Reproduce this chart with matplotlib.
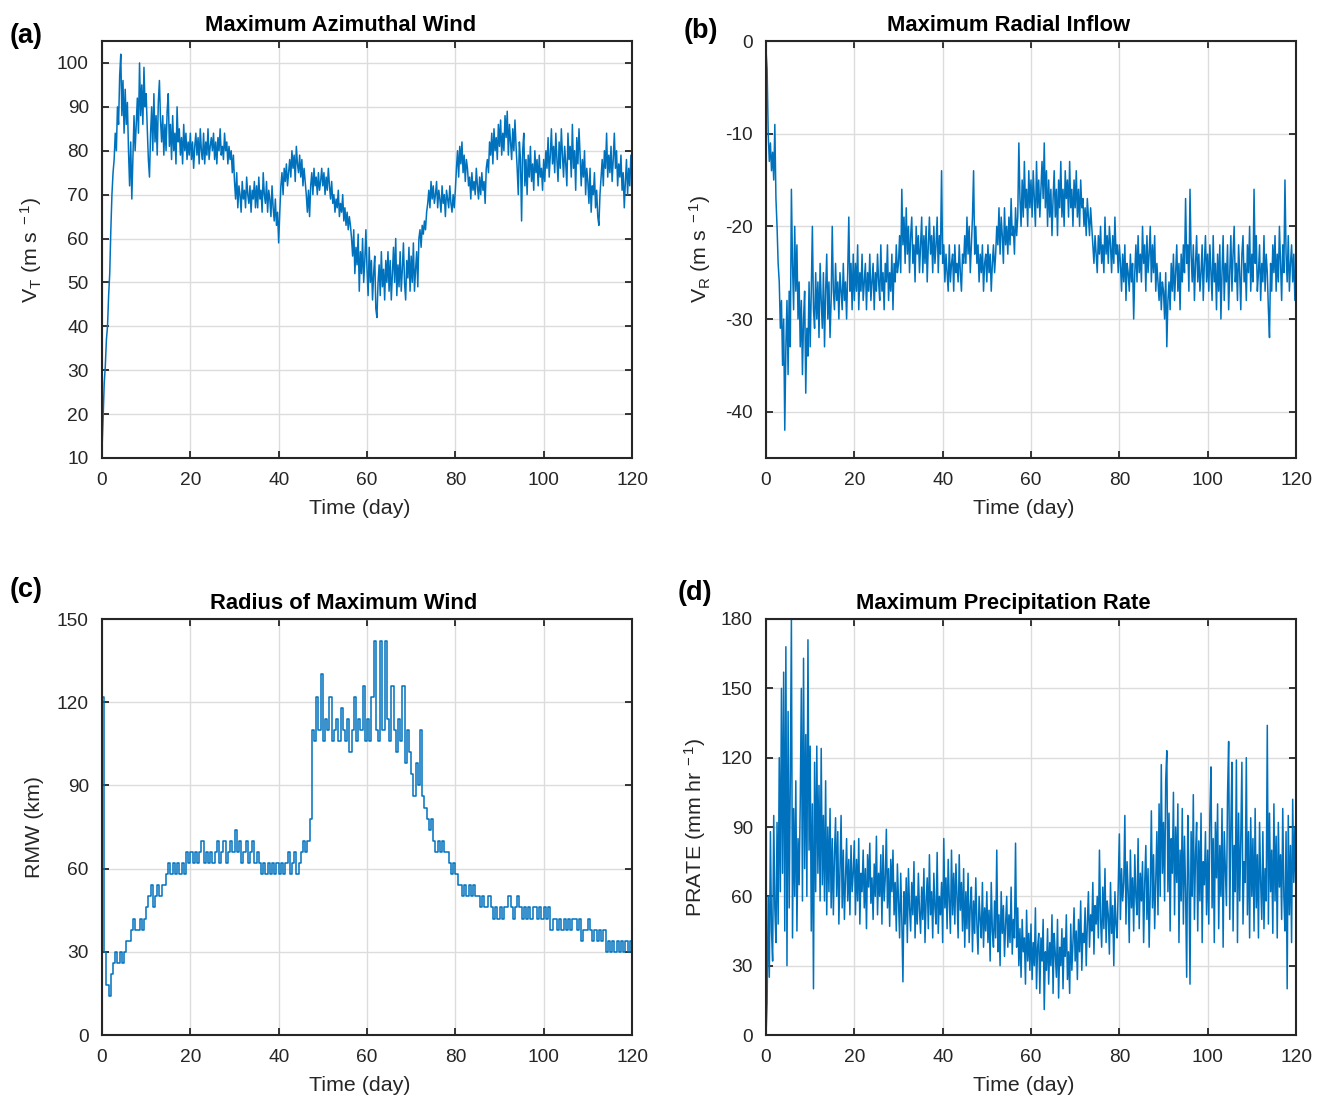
import numpy as np
import matplotlib
matplotlib.use('Agg')
import matplotlib.pyplot as plt

plt.rcParams['font.family'] = ['Liberation Sans', 'DejaVu Sans']
plt.rcParams['mathtext.fontset'] = 'custom'
plt.rcParams['mathtext.rm'] = 'Liberation Sans'
plt.rcParams['mathtext.it'] = 'Liberation Sans:italic'
plt.rcParams['mathtext.bf'] = 'Liberation Sans:bold'
plt.rcParams['axes.unicode_minus'] = False

# ---------------- data ----------------
# (a), (b), (d): one value every 0.25 day; (c): one value every 0.5 day
dt_quarter = 0.25
dt_half = 0.5

vt_max = [
    12, 19, 27, 31, 37, 40, 47, 52, 62, 70, 75, 78, 84, 80, 90, 86, 97, 102, 88, 96,
    84, 94, 86, 91, 80, 72, 82, 69, 79, 88, 80, 86, 92, 84, 100, 88, 95, 86, 99, 90,
    93, 85, 78, 74, 84, 90, 80, 93, 82, 88, 79, 91, 96, 87, 82, 88, 79, 86, 80, 89,
    93, 81, 86, 78, 88, 80, 84, 77, 90, 82, 85, 79, 83, 77, 86, 80, 84, 78, 82, 79,
    84, 78, 82, 76, 81, 84, 79, 83, 77, 85, 80, 78, 84, 77, 82, 79, 85, 78, 81, 83,
    80, 84, 78, 82, 77, 83, 80, 85, 79, 81, 78, 84, 80, 82, 77, 81, 78, 80, 75, 79,
    73, 69, 75, 67, 72, 70, 66, 73, 69, 71, 67, 74, 70, 68, 72, 66, 71, 69, 73, 67,
    72, 67, 74, 69, 71, 66, 75, 70, 68, 73, 66, 71, 69, 65, 72, 67, 64, 69, 63, 66,
    59, 66, 72, 75, 70, 76, 73, 77, 72, 75, 78, 74, 80, 76, 79, 73, 81, 77, 75, 79,
    74, 78, 72, 76, 73, 70, 66, 71, 65, 72, 75, 70, 76, 72, 74, 70, 75, 71, 73, 76,
    72, 75, 70, 74, 71, 76, 72, 69, 73, 68, 70, 66, 69, 67, 71, 65, 68, 66, 70, 64,
    67, 63, 66, 62, 65, 63, 60, 56, 62, 52, 58, 54, 61, 48, 57, 52, 60, 50, 55, 62,
    53, 47, 58, 50, 55, 46, 52, 56, 44, 42, 50, 54, 47, 57, 49, 53, 46, 55, 50, 57,
    48, 55, 46, 52, 58, 50, 60, 47, 54, 49, 57, 48, 53, 59, 50, 46, 55, 51, 58, 48,
    56, 50, 59, 48, 53, 57, 49, 60, 62, 58, 63, 61, 64, 62, 66, 68, 71, 67, 73, 69,
    72, 68, 70, 73, 67, 71, 69, 66, 72, 68, 70, 65, 71, 69, 67, 72, 68, 66, 70, 67,
    71, 76, 80, 74, 81, 77, 82, 75, 79, 73, 78, 76, 72, 74, 69, 75, 71, 73, 70, 76,
    72, 69, 74, 70, 75, 71, 73, 68, 76, 78, 75, 82, 79, 84, 77, 85, 80, 83, 78, 86,
    81, 87, 79, 84, 80, 88, 83, 89, 79, 86, 82, 78, 85, 80, 87, 81, 76, 70, 82, 78,
    64, 80, 84, 72, 78, 70, 79, 74, 81, 73, 77, 71, 80, 75, 78, 72, 79, 74, 76, 71,
    78, 73, 80, 76, 83, 74, 79, 85, 77, 81, 75, 84, 78, 73, 82, 76, 85, 79, 74, 81,
    77, 72, 84, 78, 81, 74, 86, 76, 80, 71, 83, 77, 85, 79, 72, 78, 74, 80, 70, 76,
    73, 68, 76, 66, 72, 70, 75, 67, 71, 65, 63, 70, 74, 78, 72, 80, 76, 84, 74, 79,
    75, 81, 73, 78, 84, 76, 80, 72, 77, 74, 79, 71, 75, 67, 73, 78, 70, 76, 72, 79,
    74]

vr_max = [
    -1, -3, -10, -13, -11, -14, -12, -15, -9, -17, -20, -24, -26, -31, -28, -35, -30, -42, -33, -28,
    -36, -27, -33, -16, -24, -29, -20, -27, -22, -30, -26, -33, -28, -36, -30, -27, -38, -31, -34, -26,
    -33, -27, -20, -29, -31, -25, -30, -26, -32, -24, -28, -31, -25, -33, -27, -23, -30, -26, -32, -28,
    -20, -27, -29, -24, -28, -26, -30, -25, -27, -29, -24, -28, -26, -30, -25, -19, -27, -24, -29, -23,
    -28, -24, -27, -22, -29, -25, -27, -23, -28, -26, -24, -29, -25, -27, -23, -28, -26, -24, -29, -25,
    -27, -23, -26, -28, -22, -27, -25, -29, -24, -26, -22, -28, -25, -27, -23, -29, -24, -26, -22, -25,
    -24, -21, -25, -16, -22, -19, -24, -18, -23, -20, -25, -21, -19, -24, -22, -26, -20, -23, -21, -25,
    -22, -19, -25, -21, -24, -20, -26, -22, -19, -23, -21, -25, -20, -24, -22, -19, -25, -21, -23, -14,
    -24, -22, -26, -23, -25, -27, -22, -26, -24, -23, -27, -22, -25, -24, -26, -22, -25, -27, -23, -24,
    -21, -24, -19, -23, -20, -25, -22, -19, -14, -23, -20, -24, -22, -26, -23, -25, -22, -27, -24, -23,
    -26, -22, -25, -23, -27, -24, -22, -25, -23, -20, -22, -18, -23, -19, -21, -24, -18, -22, -20, -23,
    -19, -22, -17, -21, -20, -23, -18, -21, -19, -11, -17, -20, -15, -19, -13, -18, -16, -20, -14, -18,
    -15, -19, -14, -17, -20, -13, -18, -15, -19, -16, -13, -17, -11, -18, -14, -20, -15, -19, -16, -21,
    -17, -14, -19, -16, -21, -15, -18, -13, -19, -16, -20, -14, -17, -15, -19, -13, -18, -16, -20, -15,
    -18, -14, -19, -16, -20, -15, -18, -17, -20, -18, -21, -17, -19, -21, -18, -20, -22, -24, -21, -23,
    -25, -21, -23, -20, -24, -22, -25, -19, -23, -21, -24, -20, -22, -25, -21, -24, -19, -23, -22, -25,
    -22, -24, -27, -23, -26, -22, -28, -24, -25, -27, -23, -26, -24, -30, -25, -22, -26, -21, -25, -23,
    -26, -20, -24, -22, -27, -21, -25, -23, -20, -26, -22, -25, -21, -27, -24, -26, -28, -25, -29, -26,
    -27, -30, -25, -33, -28, -26, -29, -24, -27, -23, -28, -25, -22, -27, -24, -29, -23, -26, -22, -25,
    -17, -24, -22, -27, -16, -23, -26, -22, -28, -24, -21, -26, -23, -27, -25, -22, -28, -24, -21, -26,
    -23, -27, -22, -25, -28, -21, -26, -24, -29, -23, -27, -22, -30, -25, -21, -28, -24, -26, -22, -29,
    -25, -21, -27, -23, -20, -26, -24, -28, -22, -25, -29, -23, -21, -26, -24, -28, -22, -25, -20, -27,
    -23, -26, -16, -24, -21, -27, -25, -22, -28, -24, -26, -21, -27, -23, -25, -29, -32, -24, -27, -22,
    -25, -21, -27, -23, -26, -20, -24, -28, -22, -25, -15, -23, -26, -21, -27, -24, -22, -26, -23, -28,
    -24]

rmw_km = [
    122, 30, 18, 14, 22, 26, 30, 26, 30, 26,
    30, 34, 34, 38, 42, 38, 38, 42, 38, 42,
    46, 50, 54, 46, 50, 54, 50, 54, 54, 58,
    62, 58, 62, 58, 62, 58, 62, 58, 66, 62,
    66, 62, 66, 62, 66, 70, 62, 66, 62, 66,
    62, 66, 70, 62, 66, 70, 62, 66, 70, 66,
    74, 66, 70, 62, 66, 70, 62, 66, 70, 62,
    66, 62, 58, 62, 58, 62, 58, 62, 58, 62,
    58, 62, 58, 62, 66, 58, 62, 66, 58, 62,
    66, 70, 66, 70, 78, 110, 106, 122, 110, 130,
    106, 114, 110, 122, 106, 110, 114, 106, 118, 110,
    106, 114, 102, 110, 122, 106, 114, 110, 126, 106,
    114, 106, 122, 142, 110, 106, 142, 110, 142, 114,
    106, 126, 110, 102, 114, 106, 126, 98, 110, 102,
    94, 86, 98, 90, 110, 86, 82, 78, 74, 78,
    70, 66, 70, 66, 70, 66, 66, 62, 58, 62,
    58, 54, 54, 50, 54, 50, 54, 50, 54, 50,
    50, 46, 50, 46, 46, 50, 46, 42, 46, 42,
    46, 42, 46, 46, 50, 46, 42, 46, 50, 46,
    42, 46, 42, 46, 42, 46, 46, 42, 46, 42,
    46, 42, 46, 38, 42, 42, 38, 42, 38, 42,
    38, 42, 38, 42, 42, 38, 42, 34, 38, 38,
    42, 38, 34, 38, 34, 38, 34, 38, 30, 34,
    30, 34, 30, 34, 30, 34, 30, 34, 30, 34,
    30]

prate_max = [
    0, 14, 60, 25, 88, 45, 32, 95, 55, 40, 92, 48, 120, 62, 150, 70, 157, 45, 168, 30,
    140, 55, 110, 180, 42, 98, 60, 110, 45, 85, 65, 100, 150, 58, 163, 72, 130, 60, 171, 80,
    125, 45, 100, 20, 118, 62, 125, 70, 108, 58, 124, 65, 95, 58, 110, 52, 90, 62, 98, 55,
    85, 52, 78, 94, 60, 88, 48, 72, 95, 55, 80, 50, 68, 85, 58, 76, 52, 82, 62, 70,
    84, 52, 76, 58, 85, 48, 70, 62, 80, 55, 72, 46, 78, 64, 83, 57, 68, 50, 74, 60,
    86, 52, 70, 60, 78, 48, 82, 58, 68, 89, 55, 72, 47, 76, 62, 80, 52, 66, 45, 74,
    58, 42, 70, 50, 23, 62, 48, 68, 40, 72, 55, 45, 66, 52, 75, 42, 60, 48, 70, 54,
    44, 64, 50, 72, 40, 58, 68, 46, 78, 52, 62, 42, 70, 55, 48, 79, 44, 60, 52, 66,
    40, 85, 55, 68, 46, 76, 58, 44, 80, 52, 70, 48, 74, 60, 42, 78, 54, 66, 45, 72,
    38, 62, 46, 70, 40, 56, 64, 36, 58, 44, 68, 48, 35, 60, 50, 42, 66, 38, 55, 45,
    62, 40, 54, 32, 66, 45, 38, 58, 42, 80, 36, 52, 30, 62, 44, 56, 34, 48, 60, 38,
    52, 40, 64, 35, 50, 42, 83, 38, 55, 30, 46, 25, 50, 36, 42, 22, 54, 32, 44, 28,
    48, 24, 40, 30, 55, 20, 38, 44, 18, 42, 32, 50, 11, 36, 28, 46, 22, 40, 30, 52,
    18, 44, 35, 25, 50, 16, 38, 30, 46, 20, 42, 34, 52, 24, 36, 18, 48, 28, 40, 55,
    32, 45, 24, 50, 36, 58, 28, 44, 40, 55, 30, 48, 62, 38, 52, 45, 66, 35, 56, 48,
    60, 42, 80, 50, 38, 64, 46, 72, 40, 58, 52, 35, 66, 44, 56, 30, 62, 48, 42, 65,
    87, 50, 72, 58, 66, 95, 48, 75, 62, 40, 80, 55, 68, 45, 78, 60, 52, 85, 46, 70,
    58, 75, 40, 66, 82, 50, 72, 38, 62, 97, 55, 78, 46, 68, 88, 52, 100, 60, 117, 70,
    92, 58, 110, 123, 62, 96, 45, 85, 70, 105, 52, 90, 66, 100, 40, 80, 58, 98, 48, 86,
    62, 25, 95, 70, 22, 88, 60, 104, 50, 78, 92, 45, 84, 58, 96, 40, 75, 65, 88, 52,
    80, 48, 95, 116, 55, 85, 40, 92, 68, 100, 46, 82, 60, 98, 38, 88, 72, 56, 104, 127,
    50, 90, 118, 45, 82, 62, 119, 40, 96, 58, 85, 118, 48, 75, 66, 120, 52, 88, 42, 94,
    60, 85, 45, 98, 55, 78, 42, 92, 66, 50, 88, 46, 72, 58, 134, 48, 96, 62, 80, 44,
    100, 58, 86, 42, 92, 64, 78, 50, 98, 60, 45, 88, 20, 95, 52, 82, 40, 102, 66, 90,
    60]

x_ticks = [0, 20, 40, 60, 80, 100, 120]

panels = [
    dict(letter='(a)', title='Maximum Azimuthal Wind', y=vt_max, dt=dt_quarter,
         ylabel=r'V$_{\mathregular{T}}$ (m s$^{\mathregular{\ -1}}$)',
         ylim=(10, 105), yticks=list(range(10, 101, 10)),
         box=(102, 41, 530, 417), lpos=(10, 43), tx=0.451, step=False),
    dict(letter='(b)', title='Maximum Radial Inflow', y=vr_max, dt=dt_quarter,
         ylabel=r'V$_{\mathregular{R}}$ (m s$^{\mathregular{\ -1}}$)',
         ylim=(-45, 0), yticks=[-40, -30, -20, -10, 0],
         box=(766, 41, 530, 417), lpos=(684, 38), tx=0.457, step=False),
    dict(letter='(c)', title='Radius of Maximum Wind', y=rmw_km, dt=dt_half,
         ylabel='RMW (km)',
         ylim=(0, 150), yticks=[0, 30, 60, 90, 120, 150],
         box=(102, 619, 530, 416), lpos=(10, 597), tx=0.455, step=True),
    dict(letter='(d)', title='Maximum Precipitation Rate', y=prate_max, dt=dt_quarter,
         ylabel=r'PRATE (mm hr$^{\mathregular{\ -1}}$)',
         ylim=(0, 180), yticks=[0, 30, 60, 90, 120, 150, 180],
         box=(766, 619, 530, 416), lpos=(678, 600), tx=0.447, step=False),
]

W, H = 1320, 1096
fig = plt.figure(figsize=(W / 100, H / 100), dpi=100)
dark = '#262626'
line_c = '#0072BD'

for p in panels:
    l, t, w, h = p['box']
    ax = fig.add_axes([l / W, 1 - (t + h) / H, w / W, h / H])
    tt = np.arange(len(p['y'])) * p['dt']
    if p['step']:
        ax.plot(tt, p['y'], color=line_c, lw=1.1, drawstyle='steps-post')
    else:
        ax.plot(tt, p['y'], color=line_c, lw=1.1)
    ax.set_xlim(0, 120)
    ax.set_ylim(*p['ylim'])
    ax.set_xticks(x_ticks)
    ax.set_yticks(p['yticks'])
    ax.grid(True, color='#DCDCDC', lw=1.0)
    ax.set_axisbelow(True)
    ax.tick_params(direction='in', length=5, width=1.3, top=True, right=True,
                   labelsize=13.8, colors=dark)
    ax.tick_params(axis='x', pad=10)
    ax.tick_params(axis='y', pad=9.5)
    for s in ax.spines.values():
        s.set_linewidth(1.5)
        s.set_color(dark)
    ax.set_xlabel('Time (day)', fontsize=15.4, color=dark, labelpad=7, x=0.487)
    ax.set_ylabel(p['ylabel'], fontsize=15.4, color=dark, labelpad=9)
    ax.set_title(p['title'], fontsize=15.8, fontweight='bold', color='black',
                 pad=7, x=p['tx'])
    fig.text(p['lpos'][0] / W, 1 - p['lpos'][1] / H, p['letter'],
             fontsize=19.5, fontweight='bold', ha='left', va='baseline')

fig.savefig('out.png', dpi=100)
